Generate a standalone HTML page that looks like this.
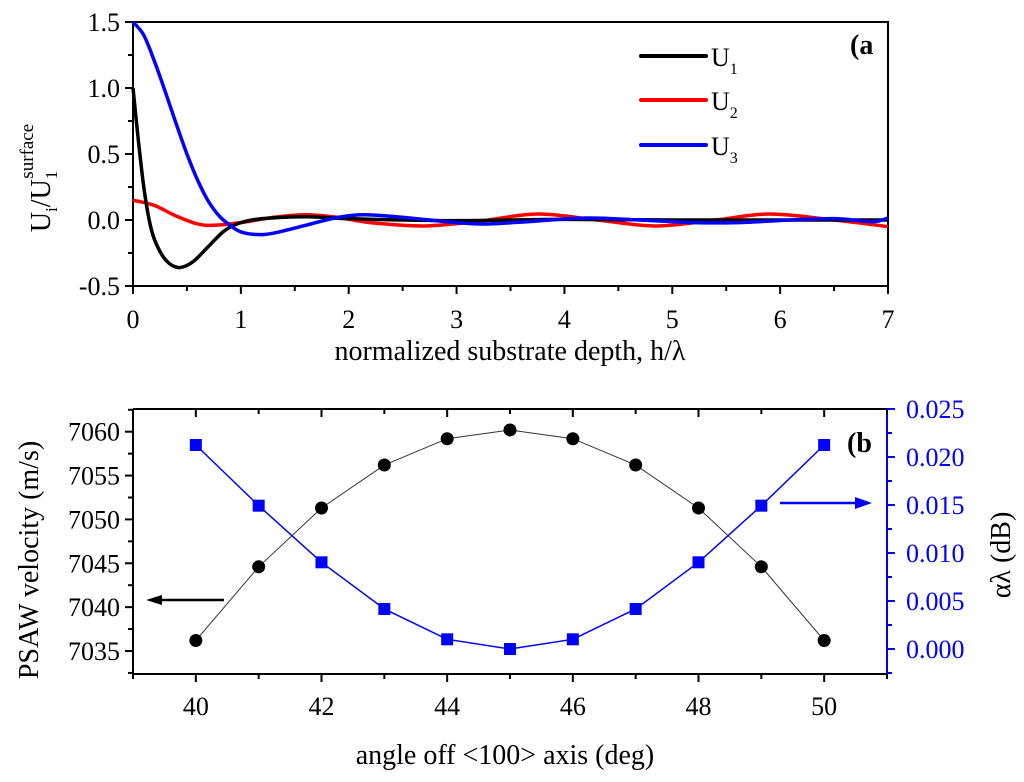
<!DOCTYPE html>
<html><head><meta charset="utf-8"><style>
body{margin:0;background:#fff}
svg{display:block}
text{font-family:"Liberation Serif",serif}
</style></head><body>
<svg id="c" width="1024" height="782" viewBox="0 0 1024 782" xmlns="http://www.w3.org/2000/svg" font-family="Liberation Serif, serif"></svg>
<script>
// Panel (a) data
const u1X = [0,0.05,0.1,0.15,0.2,0.3,0.42,0.55,0.7,0.85,1.0,1.2,1.6,2.0,2.5,3.0,3.5,4.0,5.0,6.0,7.0];
const u1Y = [1.0,0.6,0.25,0.0,-0.15,-0.3,-0.36,-0.32,-0.2,-0.08,-0.02,0.01,0.025,0.01,0.0,-0.005,0,0.005,0,0,0];
const u2X = [0,0.2,0.4,0.6,0.75,1.0,1.3,1.6,1.9,2.2,2.7,3.2,3.75,4.3,4.85,5.4,5.9,6.5,7.0];
const u2Y = [0.15,0.11,0.03,-0.03,-0.04,-0.02,0.02,0.04,0.02,-0.02,-0.045,-0.01,0.045,0.0,-0.045,0.0,0.045,0.0,-0.05];
const u3X = [0,0.1,0.2,0.3,0.4,0.5,0.6,0.7,0.8,0.9,1.0,1.15,1.3,1.6,1.9,2.15,2.5,3.0,3.3,3.7,4.2,4.7,5.2,5.6,6.1,6.5,6.8,6.9,7.0];
const u3Y = [1.5,1.4,1.2,0.97,0.73,0.5,0.3,0.14,0.03,-0.04,-0.09,-0.11,-0.1,-0.04,0.02,0.04,0.02,-0.02,-0.03,-0.01,0.015,0,-0.02,-0.02,0,0.01,-0.01,-0.01,0.015];
const aXTicks = [0,1,2,3,4,5,6,7];
const aYTicks = [-0.5,0.0,0.5,1.0,1.5];
// Panel (b) data
const angles = [40,41,42,43,44,45,46,47,48,49,50];
const velocity = [7036.2,7044.6,7051.3,7056.2,7059.2,7060.2,7059.2,7056.2,7051.3,7044.6,7036.2];
const atten = [0.02125,0.01493,0.00903,0.00417,0.00101,0.0,0.00101,0.00417,0.00903,0.01493,0.02125];
const bXTicks = [40,42,44,46,48,50];
const bYTicks = [7035,7040,7045,7050,7055,7060];
const bY2Ticks = [0.000,0.005,0.010,0.015,0.020,0.025];

const svg = document.getElementById('c');
const NS = 'http://www.w3.org/2000/svg';
function mk(tag, attrs, parent){const e=document.createElementNS(NS,tag);for(const k in attrs)e.setAttribute(k,attrs[k]);(parent||svg).appendChild(e);return e;}
function txt(s, attrs, parent){const e=mk('text',attrs,parent);e.textContent=s;return e;}

const ax=v=>133+(v-0)/7*755, ay=v=>22+(1.5-v)/2*264;
const bx=v=>133+(v-39)/12*754, by=v=>431.7+(7060-v)*8.772, by2=v=>649-(v/0.025)*240;
const TF=26, TT=28;

// Panel a
const ga = mk('g',{});


const fa = mk('rect',{x:133,y:22,width:755,height:264,fill:'none',stroke:'#000','stroke-width':2},ga);


for(let v=0; v<=7.001; v+=0.5){const x=ax(v);const maj=Math.abs(v-Math.round(v))<1e-6;mk('line',{x1:x,x2:x,y1:286,y2:maj?294:291,stroke:'#000','stroke-width':2},ga);}
aXTicks.forEach(v=>{const t=txt(String(v),{x:ax(v),y:328,'font-size':TF,'text-anchor':'middle'},ga);});
for(let v=-0.5; v<=1.5001; v+=0.25){const y=ay(v);const maj=Math.abs(v*2-Math.round(v*2))<1e-6;mk('line',{x1:maj?125:128,x2:133,y1:y,y2:y,stroke:'#000','stroke-width':2},ga);}
aYTicks.forEach(v=>{const t=txt(v.toFixed(1),{x:120,y:ay(v)+9,'font-size':TF,'text-anchor':'end'},ga);});
const xt=txt('normalized substrate depth, h/λ',{x:510,y:360,'font-size':TT,'text-anchor':'middle'},ga);


const yt=mk('text',{transform:'translate(50,178) rotate(-90)','font-size':TT,'text-anchor':'middle'},ga);


yt.innerHTML='U<tspan font-size="17" dy="7">i</tspan><tspan dy="-7">/U</tspan><tspan font-size="17" dy="7">1</tspan><tspan font-size="19" dy="-24" dx="-8">surface</tspan>';

function smooth(xs,ys,fx,fy){const p=xs.map((x,i)=>[fx(x),fy(ys[i])]);let d='M'+p[0][0]+','+p[0][1];for(let i=0;i<p.length-1;i++){const p0=p[i-1]||p[i],p1=p[i],p2=p[i+1],p3=p[i+2]||p2;d+=' C'+(p1[0]+(p2[0]-p0[0])/6)+','+(p1[1]+(p2[1]-p0[1])/6)+' '+(p2[0]-(p3[0]-p1[0])/6)+','+(p2[1]-(p3[1]-p1[1])/6)+' '+p2[0]+','+p2[1];}return d;}
[[u2X,u2Y,'#ff0000','curve-u2'],[u1X,u1Y,'#000','curve-u1'],[u3X,u3Y,'#0000ff','curve-u3']].forEach(s=>{const e=mk('path',{d:smooth(s[0],s[1],ax,ay),fill:'none',stroke:s[2],'stroke-width':3.5},ga);});
[['#000','1',56],['#ff0000','2',100],['#0000ff','3',145]].forEach(l=>{const g=mk('g',{},ga);mk('line',{x1:641,x2:706,y1:l[2],y2:l[2],stroke:l[0],'stroke-width':4,'stroke-linecap':'round'},g);const t=mk('text',{x:711,y:l[2]+10,'font-size':TF},g);t.innerHTML='U<tspan font-size="16" dy="8">'+l[1]+'</tspan>';});
const la=txt('(a',{x:850,y:54,'font-size':28,'font-weight':'bold'},ga);



// Panel b
const gb = mk('g',{});


mk('line',{x1:133,x2:887,y1:409,y2:409,stroke:'#000','stroke-width':2},gb);
mk('line',{x1:133,x2:887,y1:674,y2:674,stroke:'#000','stroke-width':2},gb);
mk('line',{x1:133,x2:133,y1:409,y2:674,stroke:'#000','stroke-width':2},gb);
const ra=mk('line',{x1:887,x2:887,y1:409,y2:674,stroke:'#0000ff','stroke-width':2},gb);


for(let v=39; v<=51; v++){const x=bx(v);const maj=v%2===0;mk('line',{x1:x,x2:x,y1:674,y2:maj?682:679,stroke:'#000','stroke-width':2},gb);mk('line',{x1:x,x2:x,y1:409,y2:maj?417:414,stroke:'#000','stroke-width':2},gb);}
bXTicks.forEach(v=>{const t=txt(String(v),{x:bx(v),y:715,'font-size':TF,'text-anchor':'middle'},gb);});
for(let v=7032.5; v<=7062.5; v+=2.5){const y=by(v);const maj=Math.abs(v%5)<1e-6;mk('line',{x1:maj?125:128,x2:133,y1:y,y2:y,stroke:'#000','stroke-width':2},gb);}
bYTicks.forEach(v=>{const t=txt(String(v),{x:120,y:by(v)+9,'font-size':TF,'text-anchor':'end'},gb);});
for(let v=0; v<=0.0251; v+=0.0025){const y=by2(v);const maj=Math.round(v/0.0025)%2===0;mk('line',{x1:887,x2:maj?895:892,y1:y,y2:y,stroke:'#0000ff','stroke-width':2},gb);}
mk('line',{x1:887,x2:892,y1:by2(-0.0025),y2:by2(-0.0025),stroke:'#0000ff','stroke-width':2},gb);
bY2Ticks.forEach(v=>{const t=txt(v.toFixed(3),{x:906,y:by2(v)+9,'font-size':TF,fill:'#0000ff'},gb);});
const xtb=txt('angle off <100> axis (deg)',{x:505,y:764,'font-size':TT,'text-anchor':'middle'},gb);


const ytb=txt('PSAW velocity (m/s)',{transform:'translate(38,560) rotate(-90)','font-size':TT,'text-anchor':'middle'},gb);


const y2tb=txt('αλ (dB)',{transform:'translate(1010,555) rotate(-90)','font-size':TT,'text-anchor':'middle'},gb);


const lv=mk('polyline',{points:angles.map((a,i)=>bx(a)+','+by(velocity[i])).join(' '),fill:'none',stroke:'#333','stroke-width':1},gb);


const lt=mk('polyline',{points:angles.map((a,i)=>bx(a)+','+by2(atten[i])).join(' '),fill:'none',stroke:'#0000ff','stroke-width':1.5},gb);


angles.forEach((a,i)=>{const c=mk('circle',{cx:bx(a),cy:by(velocity[i]),r:6.5,fill:'#000'},gb);
const r=mk('rect',{x:bx(a)-6,y:by2(atten[i])-6,width:12,height:12,fill:'#0000ff'},gb);});
const ar1=mk('g',{},gb);


mk('line',{x1:224,x2:155,y1:600,y2:600,stroke:'#000','stroke-width':2.5},ar1);
mk('polygon',{points:'146,600 162,595 162,605',fill:'#000'},ar1);
const ar2=mk('g',{},gb);


mk('line',{x1:780,x2:860,y1:503,y2:503,stroke:'#0000ff','stroke-width':2.5},ar2);
mk('polygon',{points:'872,503 855,497 855,509',fill:'#0000ff'},ar2);
const lb=txt('(b',{x:847,y:452,'font-size':28,'font-weight':'bold'},gb);


</script>
</body></html>
